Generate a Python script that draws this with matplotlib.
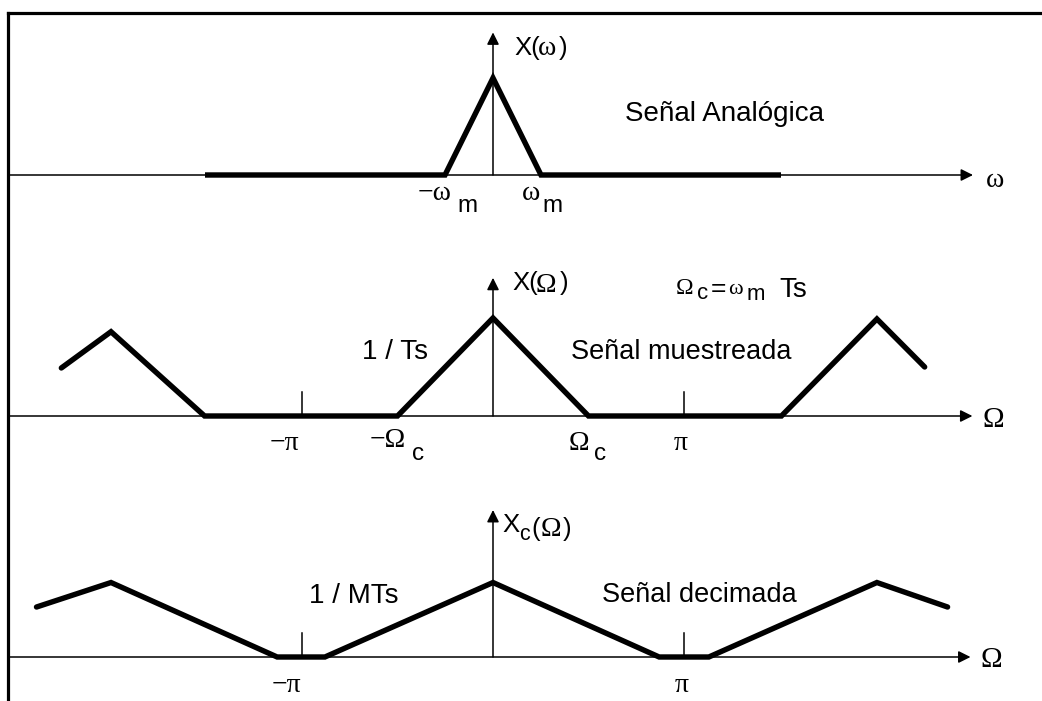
import matplotlib
matplotlib.use("Agg")
import matplotlib.pyplot as plt
from matplotlib.lines import Line2D

W, H = 1042, 701

# ---- spectra (x in units of w_m for the analog one, in units of pi for the others) ----
# analog signal X(w)
w_an = [-6, -1, 0, 1, 6]
X_an = [0, 0, 1.0, 0, 0]

# sampled signal x(Omega)
om_s = [-2.26, -2.0, -1.51, -0.50, 0.0, 0.50, 1.51, 2.01, 2.26]
X_s = [0.49, 0.86, 0, 0, 1.0, 0, 0, 0.99, 0.50]

# decimated signal Xc(Omega)
om_d = [-2.39, -2.0, -1.13, -0.88, 0.0, 0.87, 1.13, 2.01, 2.38]
X_d = [0.51, 0.76, 0, 0, 0.76, 0, 0, 0.76, 0.51]

pi_ticks = [-1, 1]

SANS = "Liberation Sans"
SERIF = "Liberation Serif"

fig = plt.figure(figsize=(W / 100, H / 100), dpi=100)
fig.patch.set_facecolor("white")


def panel(cx, sx, base, sy):
    # full-figure transparent axes, data origin placed at pixel (cx, base)
    ax = fig.add_axes([0, 0, 1, 1])
    ax.set_xlim(-cx / sx, (W - cx) / sx)
    ax.set_ylim((base - H) / sy, base / sy)
    ax.axis("off")
    ax.patch.set_alpha(0)
    return ax


def axes_arrows(ax, x0, x1, ytop):
    arr = dict(arrowstyle="-|>", lw=1.1, color="black", mutation_scale=18,
               shrinkA=0, shrinkB=0)
    ax.annotate("", xy=(x1, 0), xytext=(x0, 0), arrowprops=arr)
    ax.annotate("", xy=(0, ytop), xytext=(0, 0), arrowprops=arr)


def txt(x, y, s, fam=SANS, size=19.5):
    # x = left edge, y = baseline, both in pixels from top-left
    fig.text(x / W, 1 - y / H, s, family=fam, fontsize=size,
             ha="left", va="baseline")


thick = dict(color="black", lw=3.9, solid_joinstyle="miter", solid_capstyle="round",
             clip_on=False)

# panel 1: analog
ax1 = panel(493, 48, 175, 97)
axes_arrows(ax1, -10.1, 10.0, 1.47)
ax1.plot(w_an, X_an, color="black", lw=3.9, solid_joinstyle="miter",
         solid_capstyle="butt", clip_on=False)

# panel 2: sampled
ax2 = panel(493, 191, 416, 98)
axes_arrows(ax2, -2.53, 2.51, 1.41)
ax2.plot(om_s, X_s, **thick)
for t in pi_ticks:
    ax2.plot([t, t], [0, 0.25], color="black", lw=1.1)

# panel 3: decimated
ax3 = panel(493, 191, 657, 98)
axes_arrows(ax3, -2.53, 2.50, 1.50)
ax3.plot(om_d, X_d, **thick)
for t in pi_ticks:
    ax3.plot([t, t], [0, 0.25], color="black", lw=1.1)

# frame (top and left only)
fig.add_artist(Line2D([8 / W, 8 / W], [0, 1 - 13 / H], color="black", lw=2.3,
                      transform=fig.transFigure))
fig.add_artist(Line2D([8 / W, 1], [1 - 13 / H, 1 - 13 / H], color="black", lw=2.3,
                      transform=fig.transFigure))

# ---- labels panel 1 ----
txt(514, 55, "X(", size=18.5)
txt(538, 55, "\u03c9", SERIF, 20)
txt(559, 55, ")", size=18.5)
txt(625, 121, "Señal Analógica", size=20)
txt(418, 200, "\u2212\u03c9", SERIF, 20)
txt(457, 212, "m", SANS, 17.5)
txt(522, 200, "\u03c9", SERIF, 20)
txt(542, 212, "m", SANS, 17.5)
txt(986, 187, "\u03c9", SERIF, 20)

# ---- labels panel 2 ----
txt(512, 290, "X(", size=18.5)
txt(536, 292, "\u03a9", SERIF, 20)
txt(560, 290, ")", size=18.5)
txt(676, 294, "\u03a9", SERIF, 17)
txt(697, 299, "c", SANS, 16)
txt(711, 296, "=", SANS, 19)
txt(728, 294, "\u03c9", SERIF, 16)
txt(747, 300, "m", SANS, 16)
txt(779, 297, "Ts", SANS, 20)
txt(571, 359, "Señal muestreada")
txt(362, 359, "1 / Ts", size=20)
txt(270, 450, "\u2212\u03c0", SERIF, 20)
txt(370, 447, "\u2212\u03a9", SERIF, 20)
txt(412, 460, "c", SANS, 17.5)
txt(569, 450, "\u03a9", SERIF, 20)
txt(594, 460, "c", SANS, 17.5)
txt(674, 450, "\u03c0", SERIF, 20)
txt(982, 427, "\u03a9", SERIF, 21)

# ---- labels panel 3 ----
txt(502, 532, "X", size=18.5)
txt(519, 540, "c", SANS, 15.5)
txt(531, 536, "(", size=18.5)
txt(541, 536, "\u03a9", SERIF, 20)
txt(563, 536, ")", size=18.5)
txt(309, 603, "1 / MTs", size=20)
txt(602, 602, "Señal decimada")
txt(272, 692, "\u2212\u03c0", SERIF, 20)
txt(675, 692, "\u03c0", SERIF, 20)
txt(981, 667, "\u03a9", SERIF, 21)

fig.savefig("out.png", dpi=100, facecolor="white")
